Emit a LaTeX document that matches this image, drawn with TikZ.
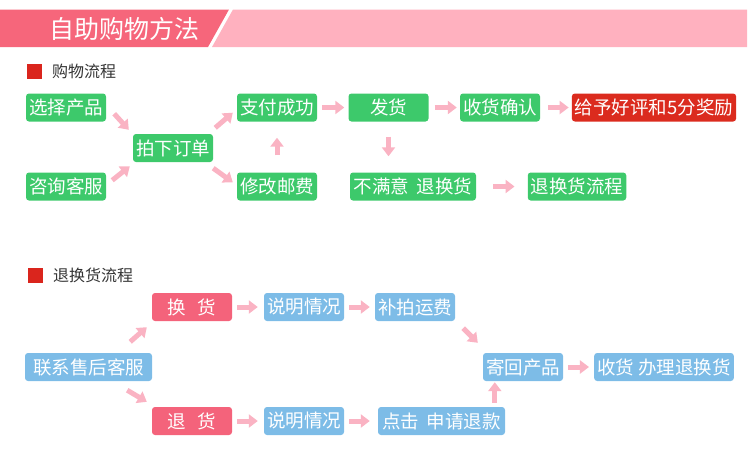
\documentclass[tikz,border=0pt]{standalone}
\usepackage{fontspec}
\setmainfont{Noto Sans CJK SC}
\usetikzlibrary{arrows.meta}
\definecolor{hdred}{HTML}{F6667B}
\definecolor{hdpink}{HTML}{FFB1BF}
\definecolor{okgreen}{HTML}{3DC96B}
\definecolor{awardred}{HTML}{DB2B1E}
\definecolor{rose}{HTML}{F4637B}
\definecolor{skyblue}{HTML}{7DBCE7}
\definecolor{arrowpink}{HTML}{FAB3C3}
\definecolor{markred}{HTML}{DA251D}
\definecolor{labelgray}{HTML}{333333}
\tikzset{
  box/.style={rounded corners=3pt, text=white, font=\fontsize{18.5}{20}\selectfont,
    minimum height=28pt, minimum width=80pt, inner xsep=3pt, inner ysep=0pt},
  gbox/.style={box, fill=okgreen},
  bbox/.style={box, fill=skyblue},
  rbox/.style={box, fill=rose},
  pa/.style={draw=arrowpink, line width=5pt, -{Triangle[width=13pt,length=9pt]}},
  seclabel/.style={anchor=west, text=labelgray, font=\fontsize{16}{18}\selectfont, inner sep=0pt}
}
\begin{document}
\begin{tikzpicture}[x=1pt,y=1pt]
\useasboundingbox (0,0) rectangle (750,-467);
% header band
\fill[hdred] (0,-9.5) -- (229,-9.5) -- (208,-47) -- (0,-47) -- cycle;
\fill[hdpink] (233,-9.5) -- (747,-9.5) -- (747,-47) -- (212,-47) -- cycle;
\node[text=white, font=\fontsize{25}{28}\selectfont, inner sep=0pt] (title) at (124,-28.5) {自助购物方法};

% shopping flow
\fill[markred] (27,-64) rectangle (42,-79);
\node[seclabel] (buy) at (52,-71.5) {购物流程};
\node[gbox] (sel) at (66,-107.5) {选择产品};
\node[gbox] (cons) at (66,-186.5) {咨询客服};
\node[gbox] (order) at (173,-148) {拍下订单};
\node[gbox] (pay) at (277,-107.5) {支付成功};
\node[gbox] (post) at (277,-186.5) {修改邮费};
\node[gbox] (ship) at (388.5,-107.5) {发货};
\node[gbox] (recv) at (500,-107.5) {收货确认};
\node[box, fill=awardred, minimum width=160pt] (award) at (654,-107.5) {给予好评和5分奖励};
\node[gbox, minimum width=126pt] (unsat) at (413,-186.5) {不满意\hspace{0.4em}退换货};
\node[gbox, minimum width=98pt] (retflow) at (577,-186.5) {退换货流程};

\draw[pa] ([shift={(8,8)}]sel.south east) -- ([shift={(-4,4)}]order.north west);
\draw[pa] ([shift={(6,-8)}]cons.north east) -- ([shift={(-3,-4)}]order.south west);
\draw[pa] ([shift={(2,6)}]order.north east) -- ([shift={(-4,9)}]pay.south west);
\draw[pa] ([shift={(0,-6)}]order.south east) -- ([shift={(-4,-10)}]post.north west);
\draw[pa, shorten <=17pt, shorten >=16pt] (post) -- (pay);
\draw[pa, shorten <=5pt, shorten >=4pt] (pay) -- (ship);
\draw[pa, shorten <=6pt, shorten >=3pt] (ship) -- (recv);
\draw[pa, shorten <=8pt, shorten >=3pt] (recv) -- (award);
\draw[pa, shorten <=15pt, shorten >=16pt] (ship.south) -- (ship.south |- unsat.north);
\draw[pa, shorten <=17pt, shorten >=13pt] (unsat) -- (retflow);

% return / exchange flow
\fill[markred] (28,-268) rectangle (43,-283);
\node[seclabel] (ret) at (53,-275.5) {退换货流程};
\node[bbox, minimum width=127pt] (contact) at (88.5,-367) {联系售后客服};
\node[rbox] (exch) at (192,-307) {换\hspace{0.6em}货};
\node[rbox] (refund) at (192,-421) {退\hspace{0.6em}货};
\node[bbox] (explA) at (304,-307) {说明情况};
\node[bbox] (explB) at (304,-421) {说明情况};
\node[bbox] (topup) at (415,-307) {补拍运费};
\node[bbox, minimum width=127pt] (click) at (441.5,-421) {点击\hspace{0.4em}申请退款};
\node[bbox] (sendback) at (523,-367) {寄回产品};
\node[bbox, minimum width=138pt] (done) at (664,-367) {收货 办理退换货};
\coordinate (up) at ([xshift=12pt]sendback.south west);

\draw[pa] ([shift={(-22,11)}]contact.north east) -- ([shift={(-5,-6)}]exch.south west);
\draw[pa] ([shift={(-25,-9)}]contact.south east) -- ([shift={(-5,5)}]refund.north west);
\draw[pa, shorten <=5pt, shorten >=6pt] (exch) -- (explA);
\draw[pa, shorten <=5pt, shorten >=5pt] (explA) -- (topup);
\draw[pa, shorten <=5pt, shorten >=6pt] (refund) -- (explB);
\draw[pa, shorten <=5pt, shorten >=8pt] (explB.east) -- (explB.east -| click.west);
\draw[pa] ([shift={(8,-7)}]topup.south east) -- ([shift={(-5,10)}]sendback.north west);
\draw[pa, shorten <=4pt, shorten >=1pt] (up |- click.north) -- (up);
\draw[pa, shorten <=5pt, shorten >=5pt] (sendback) -- (done);
\end{tikzpicture}
\end{document}
